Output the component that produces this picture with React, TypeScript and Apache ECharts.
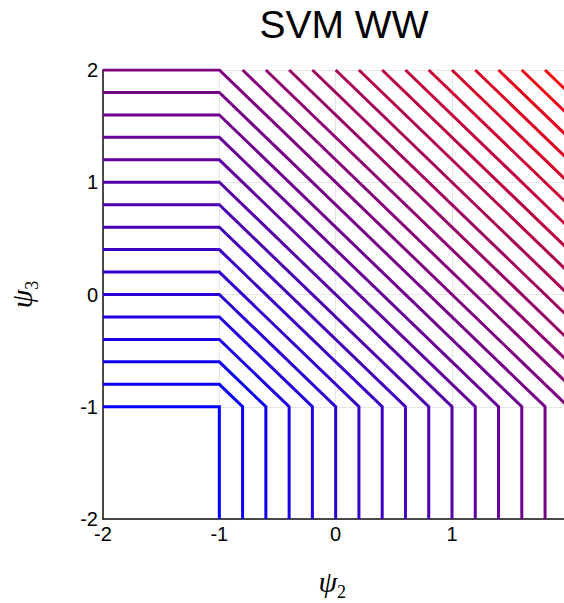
import React, { useEffect, useRef } from "react";
import * as echarts from "echarts";

// Contour levels of the SVM (Weston-Watkins) loss
const levels = [
  0, 0.2, 0.4, 0.6, 0.8, 1.0, 1.2, 1.4, 1.6, 1.8, 2.0, 2.2, 2.4, 2.6, 2.8, 3.0,
  3.2, 3.4, 3.6, 3.8, 4.0, 4.2, 4.4, 4.6, 4.8, 5.0, 5.2, 5.4, 5.6, 5.8, 6.0,
];
const levelMax = 6;
// tick labels visible in the picture (the x "2" falls outside the cropped figure)
const xTicks = [-2, -1, 0, 1];
const yTicks = [-2, -1, 0, 1, 2];
const xMin = -2;
const xMax = 2.2;
const yMin = -2;
const yMax = 2;

// contour of L(x,y) = max(0,1+x) + max(0,1+y) at level c, inside the plotted domain
function contour(c: number): number[][] {
  const pts: number[][] = [];
  if (c - 1 <= yMax) {
    pts.push([xMin, c - 1]);
    pts.push([-1, c - 1]);
  } else {
    pts.push([c - 2 - yMax, yMax]);
  }
  if (c - 1 <= xMax) {
    pts.push([c - 1, -1]);
    pts.push([c - 1, yMin]);
  } else {
    pts.push([xMax, c - 2 - xMax]);
  }
  return pts;
}

function colorFor(c: number): string {
  const t = Math.min(1, Math.max(0, c / levelMax));
  const r = Math.round(255 * t);
  const b = Math.round(255 * (1 - t));
  return `rgb(${r},0,${b})`;
}

export default function App() {
  const ref = useRef<HTMLDivElement>(null);
  useEffect(() => {
    if (!ref.current) return;
    const chart = echarts.init(ref.current, null, { renderer: "svg" });
    const labelStyle = {
      fontSize: 20,
      color: "#000",
      fontFamily: "Liberation Sans, Arial, sans-serif",
    };
    const axisLine = { show: true, onZero: false, lineStyle: { color: "#111", width: 1.5 } };
    const splitLine = { show: true, lineStyle: { color: "#e6e6e6", width: 1 } };
    const nameRich = () => ({
      a: {
        fontSize: 30,
        fontStyle: "italic",
        fontFamily: "Liberation Serif, DejaVu Serif, serif",
        color: "#000",
        verticalAlign: "bottom",
        padding: [0, 0, 5, 0],
      },
      b: {
        fontSize: 18,
        fontFamily: "Liberation Serif, DejaVu Serif, serif",
        color: "#000",
        verticalAlign: "bottom",
      },
    });
    chart.setOption({
      animation: false,
      backgroundColor: "#fff",
      title: {
        text: "SVM WW",
        left: 339,
        top: 0,
        textAlign: "center",
        textStyle: {
          fontSize: 39,
          fontWeight: "normal",
          color: "#000",
          fontFamily: "Liberation Sans, Arial, sans-serif",
        },
      },
      grid: {
        left: 103,
        top: 70,
        width: 116.33 * (xMax - xMin),
        height: 449,
        outerBoundsMode: "none",
        containLabel: false,
      },
      xAxis: {
        type: "value",
        min: xMin,
        max: xMax,
        interval: 1,
        axisLine,
        axisTick: { show: false },
        splitLine,
        axisLabel: {
          ...labelStyle,
          margin: 5,
          formatter: (v: number) => (xTicks.includes(v) ? String(v) : ""),
        },
        name: "{a|ψ}{b|2}",
        nameLocation: "middle",
        nameGap: 47,
        nameTextStyle: { rich: nameRich(), padding: [0, 30, 0, 0] },
      },
      yAxis: {
        type: "value",
        min: yMin,
        max: yMax,
        interval: 1,
        axisLine,
        axisTick: { show: false },
        splitLine,
        axisLabel: {
          ...labelStyle,
          margin: 5,
          formatter: (v: number) => (yTicks.includes(v) ? String(v) : ""),
        },
        name: "{a|ψ}{b|3}",
        nameLocation: "middle",
        nameRotate: 90,
        nameGap: 62,
        nameTextStyle: { rich: nameRich() },
      },
      series: levels.map((c) => ({
        type: "line",
        name: String(c),
        data: contour(c),
        showSymbol: false,
        symbol: "none",
        clip: true,
        lineStyle: { color: colorFor(c), width: 3, join: "miter", cap: "butt" },
        z: 3,
      })),
    });
    return () => chart.dispose();
  }, []);
  return (
    <div
      ref={ref}
      style={{ position: "fixed", left: 0, top: 0, width: 564, height: 603 }}
    />
  );
}
